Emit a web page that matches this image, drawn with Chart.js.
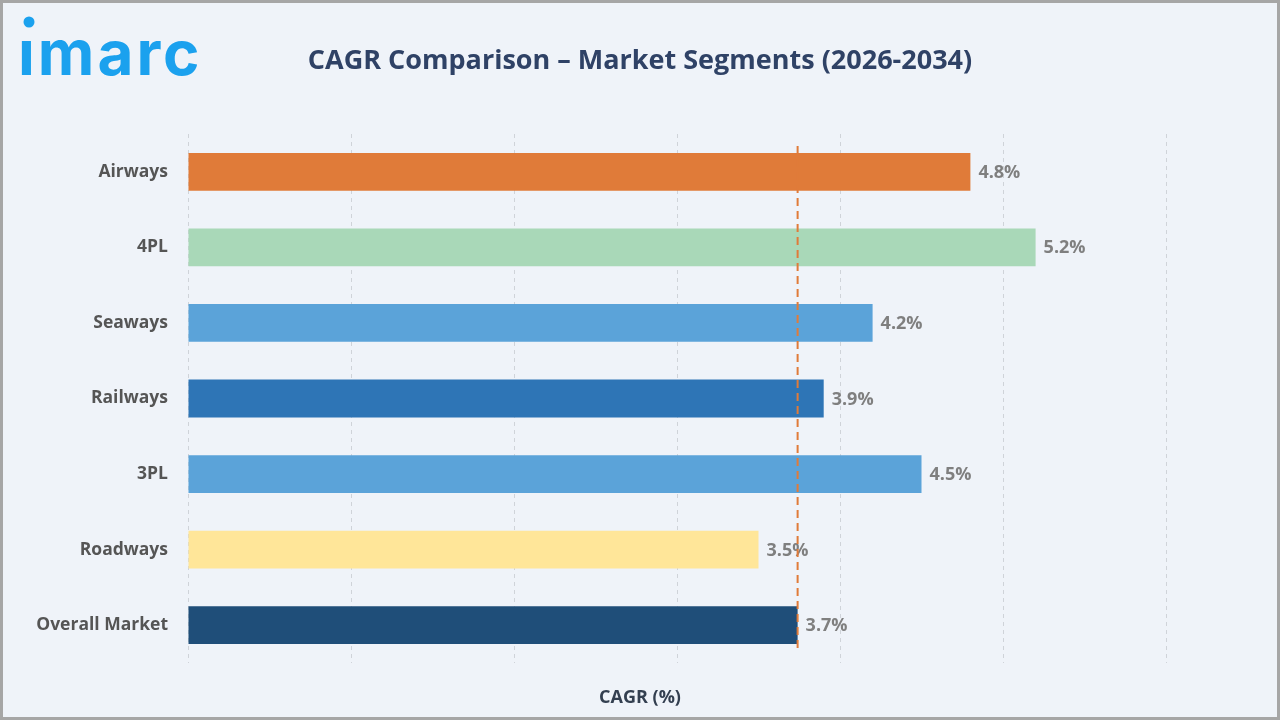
<!DOCTYPE html>
<html>
<head>
<meta charset="utf-8">
<script src="https://cdn.jsdelivr.net/npm/chart.js@4/dist/chart.umd.min.js"></script>
<style>
  body { margin: 0; background: #eef2f8; }
  #wrap { width: 1280px; height: 720px; }
</style>
</head>
<body>
<div id="wrap"><canvas id="cagrChart" width="1280" height="720"></canvas></div>
<script>
const categories = ['Airways', '4PL', 'Seaways', 'Railways', '3PL', 'Roadways', 'Overall Market'];
const cagrValues = [4.8, 5.2, 4.2, 3.9, 4.5, 3.5, 3.74];
const barColors = ['#e07b39', '#a9d8b8', '#5ba3d9', '#2e75b6', '#5ba3d9', '#ffe699', '#1f4e79'];
const overallValue = cagrValues[cagrValues.length - 1];

// background, border, logo, title and x-axis caption
const frame = {
  id: 'frame',
  beforeDraw(chart) {
    const c = chart.ctx;
    c.save();
    c.fillStyle = '#eff3f9';
    c.fillRect(0, 0, 1280, 720);
    c.strokeStyle = '#a6a6a6';
    c.lineWidth = 3;
    c.strokeRect(1.5, 1.5, 1277, 717);
    c.restore();
  },
  afterDraw(chart) {
    const c = chart.ctx;
    c.save();
    c.fillStyle = '#1ba1ee';
    c.font = '700 62px Inter';
    c.letterSpacing = '3px';
    c.textBaseline = 'alphabetic';
    c.fillText('ımarc', 18, 75);
    c.letterSpacing = '0px';
    c.beginPath();
    c.arc(29, 22, 5.5, 0, Math.PI * 2);
    c.fill();

    c.fillStyle = '#2f4266';
    c.font = 'bold 27px "Open Sans"';
    c.textAlign = 'center';
    c.textBaseline = 'middle';
    c.fillText('CAGR Comparison – Market Segments (2026-2034)', 640, 61);

    c.fillStyle = '#333f50';
    c.font = 'bold 18px "Open Sans"';
    c.fillText('CAGR (%)', 640, 698);
    c.restore();
  }
};

// value labels and the dashed overall-market line
const extras = {
  id: 'extras',
  afterDatasetsDraw(chart) {
    const c = chart.ctx;
    const meta = chart.getDatasetMeta(0);
    c.save();
    c.fillStyle = '#7f7f7f';
    c.font = 'bold 18px "Open Sans"';
    c.textBaseline = 'middle';
    meta.data.forEach((bar, i) => {
      c.fillText(cagrValues[i].toFixed(1) + '%', bar.x + 8, bar.y + 1);
    });
    const x = chart.scales.x.getPixelForValue(overallValue);
    c.strokeStyle = '#e07b39';
    c.lineWidth = 2;
    c.setLineDash([8, 5]);
    c.beginPath();
    c.moveTo(x, chart.chartArea.top + 12);
    c.lineTo(x, chart.chartArea.bottom - 12);
    c.stroke();
    c.restore();
  }
};

new Chart(document.getElementById('cagrChart'), {
  type: 'bar',
  data: {
    labels: categories,
    datasets: [{
      data: cagrValues,
      backgroundColor: barColors,
      barPercentage: 0.5,
      categoryPercentage: 1.0
    }]
  },
  options: {
    indexAxis: 'y',
    responsive: false,
    animation: false,
    layout: { padding: { top: 134, bottom: 57, left: 0, right: 114 } },
    plugins: { legend: { display: false }, tooltip: { enabled: false } },
    scales: {
      x: {
        min: 0,
        max: 6,
        ticks: { display: false, stepSize: 1 },
        grid: { color: '#cfd3d9', drawTicks: false },
        border: { display: false, dash: [4, 4] },
        afterFit: s => { s.height = 0; }
      },
      y: {
        ticks: { color: '#555555', font: { family: 'Open Sans', size: 17.5, weight: 'bold' }, padding: 20 },
        grid: { display: false, drawTicks: false },
        border: { display: false },
        afterFit: s => { s.width = 188; }
      }
    }
  },
  plugins: [frame, extras]
});
</script>
</body>
</html>
